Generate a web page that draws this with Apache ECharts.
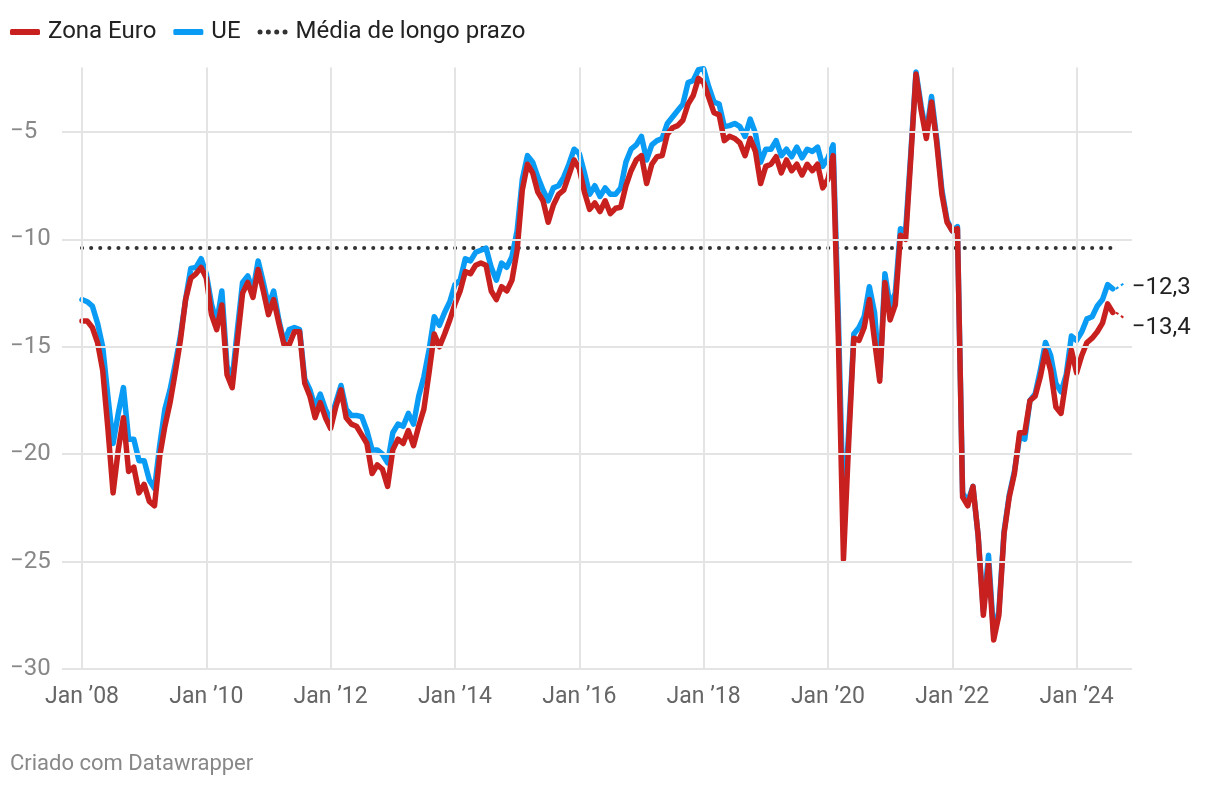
<!DOCTYPE html>
<html><head><meta charset="utf-8">
<script src="https://cdn.jsdelivr.net/npm/echarts@6/dist/echarts.min.js"></script>
<style>html,body{margin:0;padding:0;background:#fff;}#c{width:1220px;height:786px;}</style>
</head><body><div id="c"></div>
<script>
// Monthly data, Jan 2008 .. Aug 2024 (index 0 = Jan 2008)
const zonaEuro = [
-13.8,-13.8,-14.1,-14.8,-16.1,-18.8,-21.8,-19.8,-18.3,-20.8,-20.6,-21.8,
-21.4,-22.2,-22.4,-20.1,-18.7,-17.6,-16.2,-14.7,-12.8,-11.8,-11.6,-11.3,
-11.8,-13.5,-14.2,-13.05,-16.3,-16.9,-14.7,-12.5,-12.0,-12.7,-11.4,-12.4,
-13.5,-12.8,-13.9,-14.9,-14.9,-14.3,-14.3,-16.7,-17.3,-18.3,-17.6,-18.3,
-18.8,-17.8,-17.0,-18.3,-18.6,-18.7,-19.1,-19.5,-20.9,-20.5,-20.7,-21.5,
-19.8,-19.3,-19.5,-18.9,-19.6,-18.7,-17.9,-16.2,-14.4,-15.0,-14.4,-13.75,
-13.0,-12.4,-11.5,-11.6,-11.2,-11.1,-11.2,-12.4,-12.8,-12.2,-12.4,-11.9,
-10.5,-7.7,-6.5,-6.9,-7.8,-8.2,-9.2,-8.4,-7.9,-7.7,-7.0,-6.3,
-6.7,-7.8,-8.6,-8.3,-8.7,-8.2,-8.8,-8.55,-8.5,-7.5,-6.8,-6.3,
-6.1,-7.4,-6.5,-6.15,-6.1,-5.1,-4.8,-4.7,-4.45,-3.7,-3.3,-2.5,
-2.7,-3.4,-4.1,-4.2,-5.4,-5.2,-5.3,-5.5,-6.1,-5.3,-5.9,-7.4,
-6.6,-6.5,-6.15,-6.9,-6.3,-6.8,-6.5,-7.0,-6.5,-6.8,-6.5,-7.6,
-7.2,-6.1,-14.5,-24.9,-19.5,-14.6,-14.7,-14.1,-12.8,-14.7,-16.6,-12.0,
-13.75,-13.05,-9.8,-10.0,-6.2,-2.3,-4.0,-5.3,-3.6,-5.5,-7.9,-9.2,
-9.6,-9.5,-22.0,-22.4,-21.5,-23.8,-27.5,-25.1,-28.65,-27.5,-23.7,-22.0,
-20.9,-19.0,-19.0,-17.5,-17.3,-16.4,-15.2,-16.1,-17.8,-18.1,-16.5,-15.15,
-16.2,-15.4,-14.8,-14.6,-14.3,-13.9,-13.0,-13.4
];
const ue = [
-12.8,-12.9,-13.1,-13.9,-15.0,-17.3,-19.5,-18.1,-16.9,-19.3,-19.3,-20.3,
-20.3,-21.2,-21.6,-19.6,-17.9,-17.0,-15.8,-14.5,-12.8,-11.35,-11.3,-10.9,
-11.6,-13.0,-13.9,-12.4,-15.9,-16.5,-14.2,-12.0,-11.7,-12.4,-11.0,-12.0,
-13.1,-12.4,-13.75,-14.8,-14.2,-14.1,-14.2,-16.5,-17.0,-17.8,-17.2,-17.9,
-18.4,-17.6,-16.8,-17.9,-18.2,-18.2,-18.25,-18.9,-19.8,-19.8,-20.0,-20.4,
-19.0,-18.6,-18.7,-18.1,-18.6,-17.3,-16.4,-15.15,-13.6,-14.0,-13.4,-12.9,
-12.1,-11.9,-10.9,-11.0,-10.6,-10.5,-10.4,-11.3,-11.9,-11.1,-11.3,-10.8,
-9.6,-7.2,-6.1,-6.4,-7.1,-7.7,-8.2,-7.6,-7.5,-7.1,-6.5,-5.8,
-6.0,-6.9,-7.9,-7.5,-8.0,-7.6,-7.9,-7.9,-7.6,-6.4,-5.8,-5.6,
-5.2,-6.3,-5.6,-5.4,-5.3,-4.6,-4.3,-4.0,-3.7,-2.7,-2.6,-2.1,
-2.05,-2.9,-3.6,-3.7,-4.75,-4.7,-4.6,-4.75,-5.2,-4.4,-5.05,-6.4,
-5.8,-5.8,-5.4,-6.1,-5.8,-6.15,-5.7,-6.2,-5.8,-5.9,-5.7,-6.6,
-6.2,-5.6,-13.5,-23.0,-19.0,-14.4,-14.1,-13.6,-12.2,-13.4,-16.4,-11.6,
-13.1,-12.5,-9.5,-9.6,-6.0,-2.2,-3.8,-5.1,-3.35,-5.3,-7.7,-9.1,
-9.6,-9.4,-21.8,-22.2,-21.5,-23.8,-27.3,-24.7,-28.4,-27.3,-23.6,-21.9,
-20.8,-19.2,-19.3,-17.5,-17.2,-16.1,-14.8,-15.4,-16.7,-17.1,-16.3,-14.5,
-14.7,-14.3,-13.7,-13.6,-13.1,-12.8,-12.1,-12.3
];
const mediaLongoPrazo = -10.4;
const tickMonths = [0,24,48,72,96,120,144,168,192];
const tickLabels = ['Jan ’08','Jan ’10','Jan ’12','Jan ’14','Jan ’16','Jan ’18','Jan ’20','Jan ’22','Jan ’24'];
const yTicks = [-30,-25,-20,-15,-10,-5];

const toPairs = arr => arr.map((v,i)=>[i,v]);
const fmt = v => (v<0?'−':'') + Math.abs(v).toFixed(1).replace('.',',');
const lastIdx = zonaEuro.length - 1;
const RED = '#c8201f', BLUE = '#0a9cf5';

// small label connectors, anchored to the last data value
const connector = (arr, dir) => {
  const v = arr[arr.length-1];
  return [[{coord:[lastIdx+0.6, v]}, {coord:[lastIdx+2.1, v + dir*0.25]}]];
};

const dotsIcon = 'path://M0,3a2.5,2.5 0 1,0 5,0a2.5,2.5 0 1,0 -5,0Z M8.33,3a2.5,2.5 0 1,0 5,0a2.5,2.5 0 1,0 -5,0Z M16.67,3a2.5,2.5 0 1,0 5,0a2.5,2.5 0 1,0 -5,0Z M25,3a2.5,2.5 0 1,0 5,0a2.5,2.5 0 1,0 -5,0Z';

const chart = echarts.init(document.getElementById('c'), null, {renderer:'canvas'});
const FONT = 'Roboto';
chart.setOption({
  animation:false,
  backgroundColor:'#fff',
  textStyle:{fontFamily:FONT},
  grid:{left:62,right:88,top:67.6,bottom:117},
  legend:{
    left:10, top:20, padding:0, itemGap:17, itemWidth:30, itemHeight:6,
    textStyle:{fontSize:24,color:'#222',fontFamily:FONT,padding:[0,0,0,3]},
    data:[
      {name:'Zona Euro',icon:'roundRect'},
      {name:'UE',icon:'roundRect'},
      {name:'Média de longo prazo',icon:dotsIcon,itemStyle:{color:'#333',borderWidth:0}}
    ]
  },
  xAxis:{
    type:'value', min:-3.86, max:202.7,
    splitLine:{show:false}, axisLine:{show:false}, axisTick:{show:false},
    axisLabel:{customValues:tickMonths, formatter:v=>tickLabels[tickMonths.indexOf(v)], color:'#666', fontSize:23, margin:17, fontFamily:FONT}
  },
  yAxis:{
    type:'value', min:-30, max:-2,
    splitLine:{show:false}, axisLine:{show:false}, axisTick:{show:false},
    axisLabel:{customValues:yTicks, formatter:v=>'−'+Math.abs(v), color:'#888', fontSize:24, align:'left', margin:52, fontFamily:FONT}
  },
  graphic:[{type:'text', left:10, top:753, style:{text:'Criado com Datawrapper', fontSize:22, fill:'#888', fontFamily:FONT}}],
  series:[
    {
      name:'Média de longo prazo', type:'line', symbol:'none', silent:true, z:2,
      data:[[0,mediaLongoPrazo],[lastIdx,mediaLongoPrazo]],
      lineStyle:{color:'#333', width:4, type:[0.1,9], cap:'round'},
      itemStyle:{color:'#333'},
      markLine:{
        silent:true, symbol:'none', label:{show:false},
        lineStyle:{color:'#e4e4e4', width:2, type:'solid'},
        data:[...tickMonths.map(m=>({xAxis:m})), ...yTicks.map(v=>({yAxis:v}))]
      }
    },
    {
      name:'UE', type:'line', symbol:'none', z:3, data:toPairs(ue),
      lineStyle:{color:BLUE, width:5.5, join:'round', cap:'round'}, itemStyle:{color:BLUE},
      endLabel:{show:true, formatter:p=>fmt(p.value[1]), fontSize:24, color:'#222', offset:[11,-1], fontFamily:FONT},
      markLine:{silent:true, symbol:'none', label:{show:false}, lineStyle:{color:BLUE, width:2, type:[3,3]}, data:connector(ue, 1)}
    },
    {
      name:'Zona Euro', type:'line', symbol:'none', z:4, data:toPairs(zonaEuro),
      lineStyle:{color:RED, width:5.5, join:'round', cap:'round'}, itemStyle:{color:RED},
      endLabel:{show:true, formatter:p=>fmt(p.value[1]), fontSize:24, color:'#222', offset:[11,16], fontFamily:FONT},
      markLine:{silent:true, symbol:'none', label:{show:false}, lineStyle:{color:RED, width:2, type:[3,3]}, data:connector(zonaEuro, -1)}
    }
  ]
});
</script></body></html>
